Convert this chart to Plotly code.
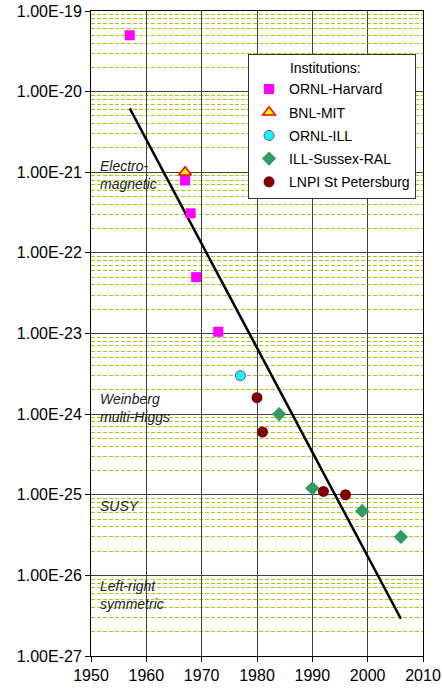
import plotly.graph_objects as go

# ---- data ----
harvard_year = [1957, 1967, 1968, 1969, 1973]
harvard_edm = [5.0e-20, 7.9e-22, 3.1e-22, 5.0e-23, 1.05e-23]
bnl_year = [1967]
bnl_edm = [1.0e-21]
ornl_ill_year = [1977]
ornl_ill_edm = [3.0e-24]
sussex_year = [1984, 1990, 1999, 2006]
sussex_edm = [1.0e-24, 1.2e-25, 6.3e-26, 3.0e-26]
lnpi_year = [1980, 1981, 1992, 1996]
lnpi_edm = [1.6e-24, 6.0e-25, 1.1e-25, 1.0e-25]
trend_year = [1957, 2006]
trend_edm = [6.2e-21, 2.9e-27]

y_tickvals = [1e-27, 1e-26, 1e-25, 1e-24, 1e-23, 1e-22, 1e-21, 1e-20, 1e-19]
y_ticktext = ["1.00E-27", "1.00E-26", "1.00E-25", "1.00E-24", "1.00E-23",
              "1.00E-22", "1.00E-21", "1.00E-20", "1.00E-19"]
x_tickvals = [1950, 1960, 1970, 1980, 1990, 2000, 2010]
x_range = [1950, 2010]

theory_labels = ["Electro-<br>magnetic", "Weinberg<br>multi-Higgs", "SUSY",
                 "Left-right<br>symmetric"]
theory_logy = [-21.04, -23.93, -25.14, -26.24]
theory_x = 1951.2

# minor gridline positions: 2..9 x each decade
minor_vals = [m * d for d in y_tickvals[:-1] for m in range(2, 10)]

FONT = "Liberation Sans, Arial, sans-serif"

fig = go.Figure()

fig.add_trace(go.Scatter(x=trend_year, y=trend_edm, mode="lines",
                         line=dict(color="black", width=2.5), showlegend=False,
                         hoverinfo="skip"))

fig.add_trace(go.Scatter(x=harvard_year, y=harvard_edm, mode="markers", name="ORNL-Harvard",
                         legendgroup="a",
                         marker=dict(symbol="square", size=10, color="#FF00FF",
                                     line=dict(width=0))))
fig.add_trace(go.Scatter(x=bnl_year, y=bnl_edm, mode="markers", name="BNL-MIT",
                         legendgroup="b",
                         marker=dict(symbol="triangle-up", size=11, color="#FFFF00",
                                     line=dict(width=1.5, color="#FF0000"))))
fig.add_trace(go.Scatter(x=ornl_ill_year, y=ornl_ill_edm, mode="markers", name="ORNL-ILL",
                         legendgroup="c",
                         marker=dict(symbol="circle", size=10, color="#00FFFF",
                                     line=dict(width=1, color="#993366"))))
fig.add_trace(go.Scatter(x=sussex_year, y=sussex_edm, mode="markers", name="ILL-Sussex-RAL",
                         legendgroup="d",
                         marker=dict(symbol="diamond", size=11, color="#339966",
                                     line=dict(width=0))))
fig.add_trace(go.Scatter(x=lnpi_year, y=lnpi_edm, mode="markers", name="LNPI St Petersburg",
                         legendgroup="e",
                         marker=dict(symbol="circle", size=11, color="#800000",
                                     line=dict(width=0))))

for txt, ly in zip(theory_labels, theory_logy):
    fig.add_annotation(x=theory_x, y=ly, text="<i>" + txt + "</i>", showarrow=False,
                       xanchor="left", yanchor="middle", align="left",
                       font=dict(family=FONT, size=14, color="#222222"))

fig.update_layout(
    width=442, height=690,
    margin=dict(l=91, r=19, t=11, b=34, autoexpand=False),
    paper_bgcolor="white", plot_bgcolor="white",
    font=dict(family=FONT, size=16, color="black"),
    legend=dict(x=0.473, y=0.933, xanchor="left", yanchor="top",
                bgcolor="white", bordercolor="#333333", borderwidth=1,
                font=dict(family=FONT, size=14, color="black"),
                title=dict(text="&nbsp;" * 10 + "Institutions:",
                           font=dict(family=FONT, size=14)),
                tracegroupgap=2, itemwidth=30),
    xaxis=dict(range=x_range, tickvals=x_tickvals, showgrid=True,
               gridcolor="#404040", gridwidth=1, showline=True, linecolor="black",
               linewidth=1, mirror=True, ticks="outside", ticklen=5, tickcolor="black",
               zeroline=False, automargin=False),
    yaxis=dict(type="log", range=[-27, -19], tickmode="array", tickvals=y_tickvals,
               ticktext=y_ticktext, showgrid=True, gridcolor="#404040", gridwidth=1,
               showline=True, linecolor="black", linewidth=1, mirror=True,
               ticks="outside", ticklen=5, tickcolor="black", automargin=False,
               minor=dict(tickmode="array", tickvals=minor_vals, showgrid=True,
                          gridcolor="#A4CC10", griddash="4px,2px", gridwidth=1,
                          ticklen=0)),
)

fig.write_html("out.html", config={"displayModeBar": False},
               post_script="document.body.style.margin='0';")
